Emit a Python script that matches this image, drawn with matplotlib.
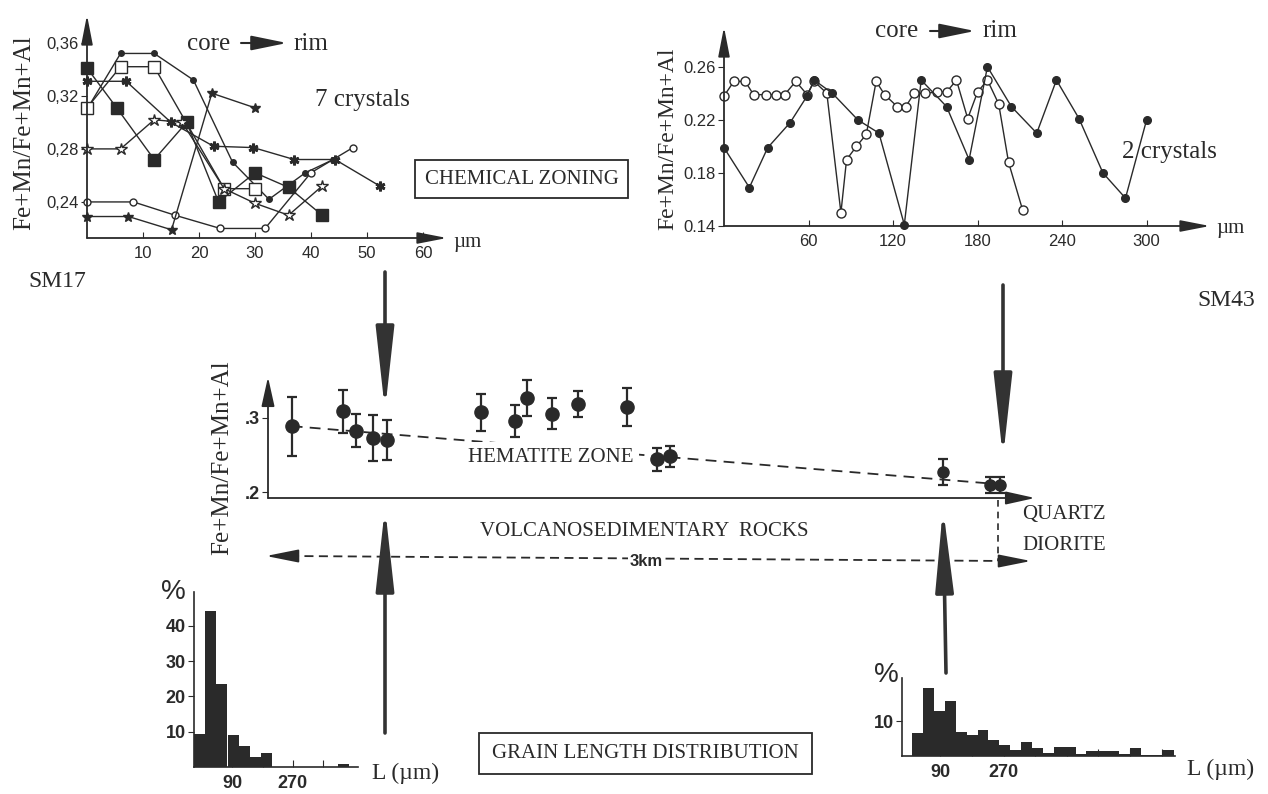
import matplotlib
matplotlib.use('Agg')
import matplotlib.pyplot as plt
from matplotlib.patches import Rectangle

W, H = 1268, 794
INK = '#2a2a2a'
SERIF = ['Liberation Serif', 'DejaVu Serif']
SANS = ['Liberation Sans', 'DejaVu Sans']

# SM17 chemical zoning, 7 crystals (distance in um, Fe+Mn/Fe+Mn+Al)
sm17_a_x = [0, 6, 12, 19, 26, 32.5, 39, 44]
sm17_a_y = [0.31, 0.352, 0.352, 0.332, 0.27, 0.242, 0.262, 0.272]
sm17_b_x = [0, 6, 12, 24.5, 30]
sm17_b_y = [0.311, 0.342, 0.342, 0.25, 0.25]
sm17_c_x = [0, 5.3, 12, 17.8, 23.5, 30, 36, 42]
sm17_c_y = [0.341, 0.311, 0.272, 0.30, 0.24, 0.262, 0.251, 0.23]
sm17_d_x = [0, 7, 15, 22.6, 29.7, 37, 44.3, 52.3]
sm17_d_y = [0.331, 0.331, 0.30, 0.282, 0.281, 0.272, 0.272, 0.252]
sm17_e_x = [0, 6, 12, 17, 24.5, 30, 36, 42]
sm17_e_y = [0.28, 0.28, 0.302, 0.30, 0.25, 0.239, 0.23, 0.252]
sm17_f_x = [0, 8.3, 15.7, 23.8, 31.8, 40, 47.5]
sm17_f_y = [0.24, 0.24, 0.23, 0.22, 0.22, 0.262, 0.281]
sm17_g_x = [0, 7.4, 15.1, 22.3, 30]
sm17_g_y = [0.229, 0.229, 0.219, 0.322, 0.311]

# SM43 chemical zoning, 2 crystals
sm43_open_x = [0, 7, 15, 21, 30, 37, 43, 51, 59, 64, 73, 83, 87, 94, 101, 108, 114,
               123, 129, 135, 143, 151, 158, 165, 173, 180, 187, 195, 202, 212]
sm43_open_y = [0.238, 0.249, 0.249, 0.239, 0.239, 0.239, 0.239, 0.249, 0.239, 0.249,
               0.240, 0.150, 0.190, 0.200, 0.209, 0.249, 0.239, 0.230, 0.230, 0.240,
               0.240, 0.241, 0.241, 0.250, 0.221, 0.241, 0.250, 0.232, 0.188, 0.152]
sm43_fill_x = [0, 18, 31, 47, 59, 64, 77, 95, 110, 128, 140, 158, 174, 187, 204,
               222, 236, 252, 269, 285, 300]
sm43_fill_y = [0.199, 0.169, 0.199, 0.218, 0.238, 0.250, 0.240, 0.220, 0.210, 0.141,
               0.250, 0.230, 0.190, 0.260, 0.230, 0.210, 0.250, 0.221, 0.180, 0.161, 0.220]

# profile across the volcanosedimentary rocks (km from left end)
mid_km = [0.093, 0.295, 0.345, 0.41, 0.466, 0.834, 0.969, 1.017, 1.113, 1.217,
          1.407, 1.524, 1.576, 2.646, 2.831, 2.871]
mid_ratio = [0.289, 0.309, 0.283, 0.273, 0.270, 0.308, 0.296, 0.327, 0.306, 0.319,
             0.315, 0.244, 0.248, 0.227, 0.209, 0.209]
mid_err = [0.040, 0.029, 0.022, 0.031, 0.027, 0.025, 0.021, 0.024, 0.021, 0.017,
           0.026, 0.015, 0.014, 0.018, 0.011, 0.011]
trend_km = [0.093, 2.85]
trend_ratio = [0.289, 0.211]

# grain length distributions (bin left edge in um, %)
gl17_left = [-24, 9, 42, 76, 109, 143, 176, 405]
gl17_pct = [9.3, 44.3, 23.6, 9.1, 6.0, 2.8, 4.1, 0.9]
gl17_width = 33
gl43_left = [10, 41, 72, 103, 134, 165, 196, 227, 258, 289, 320, 351,
             382, 413, 444, 475, 506, 537, 568, 599, 630, 661, 692, 723]
gl43_pct = [6.6, 19.6, 13.0, 15.8, 6.8, 6.0, 7.6, 4.7, 3.3, 1.6, 4.0, 2.4,
            0.9, 2.6, 2.6, 0.7, 1.3, 1.3, 1.3, 0.5, 2.3, 0.3, 0.3, 1.8]
gl43_width = 31


def px_axes(fig, left, top, right, bottom):
    return fig.add_axes([left / W, 1 - bottom / H, (right - left) / W, (bottom - top) / H])


def arrow_axes(ax, head_w=0.35):
    for s in ax.spines.values():
        s.set_visible(False)
    for end in [(1, 0), (0, 1)]:
        ax.annotate('', xy=end, xytext=(0, 0), xycoords='axes fraction', textcoords='axes fraction',
                    arrowprops=dict(arrowstyle=f'-|>,head_length=1.8,head_width={head_w}',
                                    lw=1.3, color=INK, shrinkA=0, shrinkB=0))


plt.rcParams['font.family'] = SANS
plt.rcParams['text.color'] = INK
plt.rcParams['xtick.color'] = INK
plt.rcParams['ytick.color'] = INK

fig = plt.figure(figsize=(W / 100, H / 100), dpi=100)

# ---- SM17 panel ----
ax1 = px_axes(fig, 87, 15, 447, 238)
ax1.set_xlim(0, 64.3)
ax1.set_ylim(0.2128, 0.381)
arrow_axes(ax1)
lkw = dict(color=INK, lw=1.0, clip_on=False)
ax1.plot(sm17_a_x, sm17_a_y, marker='o', ms=4, **lkw)
ax1.plot(sm17_b_x, sm17_b_y, marker='s', ms=9, mfc='white', mec=INK, **lkw)
ax1.plot(sm17_c_x, sm17_c_y, marker='s', ms=8.5, **lkw)
ax1.plot(sm17_d_x, sm17_d_y, marker=(6, 2, 0), ms=7, mew=2, **lkw)
ax1.plot(sm17_e_x, sm17_e_y, marker='*', ms=9, mfc='white', mec=INK, **lkw)
ax1.plot(sm17_f_x, sm17_f_y, marker='o', ms=5, mfc='white', mec=INK, **lkw)
ax1.plot(sm17_g_x, sm17_g_y, marker='*', ms=7, **lkw)
ax1.set_xticks([10, 20, 30, 40, 50, 60])
ax1.set_yticks([0.24, 0.28, 0.32, 0.36], ['0,24', '0,28', '0,32', '0,36'])
ax1.tick_params(axis='x', direction='in', length=4, labelsize=12, pad=6)
ax1.tick_params(axis='y', direction='out', length=4, labelsize=12, pad=2)

# ---- SM43 panel ----
ax2 = px_axes(fig, 724, 27, 1210, 226)
ax2.set_xlim(0, 345)
ax2.set_ylim(0.14, 0.29)
arrow_axes(ax2)
ax2.plot(sm43_open_x, sm43_open_y, marker='o', ms=6.5, mfc='white', mec=INK, **lkw)
ax2.plot(sm43_fill_x, sm43_fill_y, marker='o', ms=5.5, **lkw)
ax2.set_xticks([60, 120, 180, 240, 300])
ax2.set_yticks([0.14, 0.18, 0.22, 0.26], ['0.14', '0.18', '0.22', '0.26'])
ax2.tick_params(axis='x', direction='in', length=4, labelsize=12, pad=6)
ax2.tick_params(axis='y', direction='out', length=4, labelsize=12, pad=2)

# ---- profile panel ----
ax3 = px_axes(fig, 268, 377, 1035, 498)
ax3.set_xlim(0, 3.008)
ax3.set_ylim(0.1919, 0.3554)
arrow_axes(ax3, head_w=0.4)
ax3.plot(trend_km, trend_ratio, ls=(0, (6, 4)), lw=1.3, color=INK, zorder=1)
ekw = dict(fmt='o', color=INK, ecolor=INK, elinewidth=1.6, capsize=3.5, capthick=1.6, zorder=3)
ax3.errorbar(mid_km[:13], mid_ratio[:13], yerr=mid_err[:13], ms=9.5, **ekw)
ax3.errorbar(mid_km[13:], mid_ratio[13:], yerr=mid_err[13:], ms=8, **ekw)
ax3.set_xticks([])
ax3.set_yticks([0.2, 0.3], ['.2', '.3'])
ax3.tick_params(axis='y', direction='out', length=4, labelsize=13, pad=2)
for t in ax3.get_yticklabels():
    t.set_fontweight('bold')

# ---- grain length histograms ----
def hist_axes(ax, lefts, pct, width, yticks, xmax_tick):
    ax.bar(lefts, pct, width=width, align='edge', color=INK, lw=0)
    for s in ['top', 'right']:
        ax.spines[s].set_visible(False)
    for s in ['left', 'bottom']:
        ax.spines[s].set_linewidth(1.2)
        ax.spines[s].set_color(INK)
    ax.set_yticks(yticks)
    xt = list(range(90, xmax_tick + 1, 90))
    ax.set_xticks(xt, ['90' if v == 90 else '270' if v == 270 else '' for v in xt])
    ax.tick_params(axis='x', direction='in', length=5, labelsize=13, pad=6)
    ax.tick_params(axis='y', direction='out', length=4, labelsize=13, pad=2)
    for t in ax.get_xticklabels() + ax.get_yticklabels():
        t.set_fontweight('bold')


ax4 = px_axes(fig, 194, 592, 358, 767)
ax4.set_xlim(-24, 464)
ax4.set_ylim(0, 49.6)
hist_axes(ax4, gl17_left, gl17_pct, gl17_width, [10, 20, 30, 40], 360)

ax5 = px_axes(fig, 902, 678, 1175, 756)
ax5.set_xlim(-19, 758)
ax5.set_ylim(0, 22.4)
hist_axes(ax5, gl43_left, gl43_pct, gl43_width, [10], 720)

# ---- overlay: labels, boxes, big arrows ----
ov = fig.add_axes([0, 0, 1, 1])
ov.set_xlim(0, W)
ov.set_ylim(H, 0)
ov.axis('off')
ov.patch.set_alpha(0)


def stext(x, y, s, size=15, **kw):
    kw.setdefault('va', 'center')
    kw.setdefault('ha', 'left')
    ov.text(x, y, s, fontsize=size, family=SERIF, color=INK, **kw)


def small_arrow(x0, y0, x1, y1, hl=1.8, hw=0.35, lw=1.3):
    ov.annotate('', xy=(x1, y1), xytext=(x0, y0),
                arrowprops=dict(arrowstyle=f'-|>,head_length={hl},head_width={hw}',
                                lw=lw, color=INK, shrinkA=0, shrinkB=0))


def big_arrow(x0, y0, x1, y1):
    ov.annotate('', xy=(x1, y1), xytext=(x0, y0),
                arrowprops=dict(arrowstyle='-|>,head_length=5,head_width=0.55', lw=2.6,
                                color='#333333', shrinkA=0, shrinkB=0, mutation_scale=10))


# y labels
stext(24, 133, 'Fe+Mn/Fe+Mn+Al', size=18, rotation=90, ha='center')
stext(668, 139, 'Fe+Mn/Fe+Mn+Al', size=17, rotation=90, ha='center')
stext(222, 458, 'Fe+Mn/Fe+Mn+Al', size=18, rotation=90, ha='center')

# units
stext(453, 243, 'µm', size=15)
stext(1216, 228, 'µm', size=15)

# core -> rim
stext(187, 50, 'core', size=18, va='baseline')
small_arrow(241, 43, 287, 43, hl=2.2, hw=0.45, lw=1.5)
stext(293, 50, 'rim', size=18, va='baseline')
stext(875, 37, 'core', size=18, va='baseline')
small_arrow(930, 31, 975, 31, hl=2.2, hw=0.45, lw=1.5)
stext(982, 37, 'rim', size=18, va='baseline')

stext(315, 106, '7 crystals', size=18, va='baseline')
stext(1122, 158, '2 crystals', size=18, va='baseline')
stext(28, 287, 'SM17', size=17, va='baseline')
stext(1197, 306, 'SM43', size=17, va='baseline')

# boxed labels
ov.add_patch(Rectangle((415, 160), 213, 38, fill=False, lw=1.3, ec=INK))
stext(521.5, 179, 'CHEMICAL ZONING', ha='center')
ov.add_patch(Rectangle((479, 733), 333, 41, fill=False, lw=1.3, ec=INK))
stext(645.5, 754, 'GRAIN LENGTH DISTRIBUTION', ha='center')

stext(468, 457, 'HEMATITE ZONE',
      bbox=dict(boxstyle='square,pad=0.25', fc='white', ec='none'))
stext(480, 531, 'VOLCANOSEDIMENTARY  ROCKS')
stext(1022, 515, 'QUARTZ')
stext(1022, 546, 'DIORITE')

# 3 km scale
ov.plot([290, 1006], [556, 561], ls=(0, (5, 3)), lw=1.3, color=INK)
small_arrow(292, 556, 266, 556, hl=2.0, hw=0.4)
small_arrow(1004, 561, 1031, 561, hl=2.0, hw=0.4)
ov.plot([998, 998], [500, 561], ls=(0, (4, 3)), lw=1.2, color=INK)
ov.text(646, 562, '3km', fontsize=12, fontweight='bold', ha='center', va='center', color=INK,
        bbox=dict(boxstyle='square,pad=0.1', fc='white', ec='none'))

# histogram labels
ov.text(173, 592, '%', fontsize=20, ha='center', va='center', color=INK)
ov.text(886, 675, '%', fontsize=20, ha='center', va='center', color=INK)
stext(372, 773, 'L (µm)', size=17)
stext(1187, 769, 'L (µm)', size=17)

# big arrows linking panels
big_arrow(385, 272, 385, 411)
big_arrow(385, 733, 385, 507)
big_arrow(1003, 285, 1003, 458)
big_arrow(946, 673, 943, 508)

fig.savefig('out.png', dpi=100)
